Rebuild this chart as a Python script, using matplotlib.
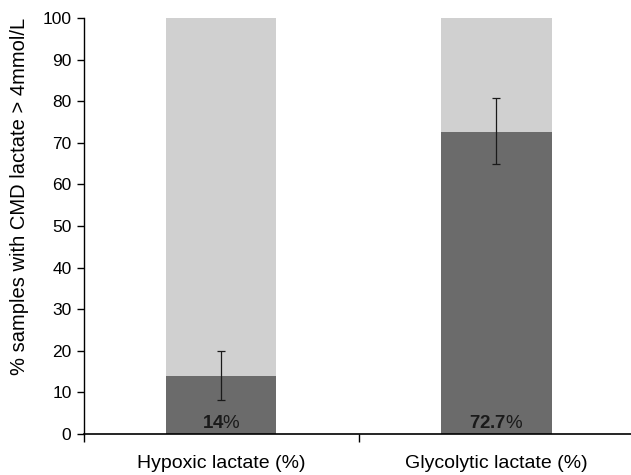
import matplotlib.pyplot as plt
import numpy as np

categories = ["Hypoxic lactate (%)", "Glycolytic lactate (%)"]
values = [14, 72.7]
err_low = [8.2, 64.9]
err_high = [20, 80.8]
total = [100, 100]
labels = ["14", "72.7"]

plt.rcParams['font.family'] = ['Liberation Sans', 'DejaVu Sans']
plt.rcParams['mathtext.fontset'] = 'custom'
plt.rcParams['mathtext.rm'] = 'Liberation Sans'
plt.rcParams['mathtext.bf'] = 'Liberation Sans:bold'

fig = plt.figure(figsize=(6.31, 4.75), dpi=100)
ax = fig.add_axes([84 / 631, 1 - 434 / 475, 550 / 631, 416 / 475])

x = np.arange(len(categories))
vals = np.array(values)
rest = np.array(total) - vals
ax.bar(x, vals, width=0.4, color="#6b6b6b")
ax.bar(x, rest, width=0.4, bottom=vals, color="#d0d0d0")

yerr = [vals - np.array(err_low), np.array(err_high) - vals]
ax.errorbar(x, vals, yerr=yerr, fmt="none", ecolor="#1a1a1a", elinewidth=0.9,
            capsize=3, capthick=0.9)

for xi, lab in zip(x, labels):
    ax.text(xi, 0.6, r"$\mathbf{" + lab + "}$%", ha="center", va="bottom",
            fontsize=13.5, color="#1a1a1a")

ax.set_xlim(-0.5, 1.5)
ax.set_ylim(0, 100)
ax.set_yticks(np.arange(0, 101, 10))
ax.set_xticks(x)
ax.set_xticklabels(categories, fontsize=14)
ax.set_xticks([-0.5, 0.5, 1.5], minor=True)
ax.tick_params(axis="x", which="major", length=0, pad=15)
ax.tick_params(axis="x", which="minor", length=6, width=1)
ax.tick_params(axis="y", length=5, width=1, labelsize=12.5, pad=4)
ax.set_ylabel("% samples with CMD lactate > 4mmol/L", fontsize=14.5)
ax.yaxis.set_label_coords(-0.1, 0.572)

for s in ["top", "right"]:
    ax.spines[s].set_visible(False)
ax.spines["left"].set_linewidth(1)
ax.spines["bottom"].set_linewidth(1.2)

fig.savefig("out.png", dpi=100)
